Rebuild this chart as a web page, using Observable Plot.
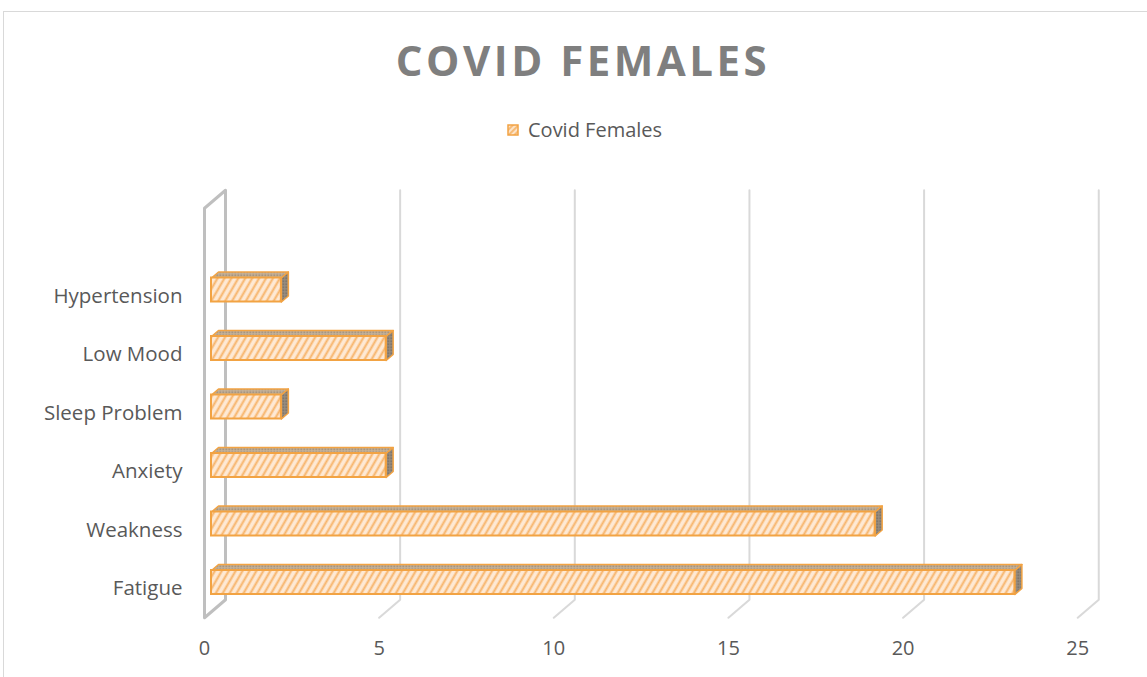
<!DOCTYPE html>
<html>
<head>
<meta charset="utf-8">
<script src="https://cdn.jsdelivr.net/npm/d3@7"></script>
<script src="https://cdn.jsdelivr.net/npm/@observablehq/plot@0.6"></script>
<style>
  html, body { margin: 0; padding: 0; background: #fff; overflow: hidden; }
  body { width: 1147px; height: 677px; position: relative; font-family: "Open Sans", sans-serif; }
  #frame { position: absolute; left: 3px; top: 11px; width: 1300px; height: 800px; z-index: 5; pointer-events: none;
           border-left: 1.5px solid #d9d9d9; border-top: 1.5px solid #d9d9d9; box-sizing: border-box; }
  #head { position: relative; height: 160px; }
  #title { position: absolute; left: 0; width: 1166px; top: 39px; text-align: center;
           font-size: 42px; line-height: 42px; font-weight: 700; color: #7f7f7f; letter-spacing: 3.5px; }
  #legend { position: absolute; left: 507px; top: 120px; font-size: 20px; line-height: 20px; color: #595959;
            display: flex; align-items: center; }
  #legend svg { margin-right: 9px; }
  #chart { position: relative; }
</style>
</head>
<body>
<div id="frame"></div>
<div id="head">
  <div id="title"></div>
  <div id="legend"></div>
</div>
<div id="chart"></div>
<script>
// ---- data ----
const chartTitle = "COVID FEMALES";
const seriesName = "Covid Females";
const categories = ["Fatigue", "Weakness", "Anxiety", "Sleep Problem", "Low Mood", "Hypertension"];
const values = [23, 19, 5, 2, 5, 2];
const xTicks = [0, 5, 10, 15, 20, 25];

// ---- layout ----
const W = 1147, H = 517;
const kx = 34.93, ky = 58.5;           // px per data unit
const mL = 211, mR = W - mL - 25 * kx;
const mT = 129.5, mB = H - (mT + 5 * ky);
const ddx = 7 / kx, ddy = 6 / ky;      // one depth step in data units
const barH = 24 / ky;
const yFloor = -0.5, yTop = 6.5;
const P = (v, y, d) => ({x: v + (d - 1) * ddx, y: y + (d - 1) * ddy});

const orange = "#f2a343";

document.getElementById("title").textContent = chartTitle;
document.getElementById("legend").innerHTML =
  `<svg width="12" height="12"><defs><pattern id="hatchL" patternUnits="userSpaceOnUse" width="4" height="4" patternTransform="rotate(45)"><rect width="4" height="4" fill="#fde3c8"/><line x1="1" y1="0" x2="1" y2="4" stroke="#f4ae5c" stroke-width="1.5"/></pattern></defs><rect x="1" y="1" width="10" height="10" fill="url(#hatchL)" stroke="${orange}" stroke-width="1.5"/></svg><span>${seriesName}</span>`;

const bars = categories.map((c, i) => ({cat: c, i, v: values[i]}));

const gridPts = xTicks.filter(t => t !== 0).flatMap(t => [
  {t, ...P(t, yTop, 3)}, {t, ...P(t, yFloor, 3)}, {t, ...P(t, yFloor, 0)}
]);
const wallPts = [P(0, yFloor, 0), P(0, yTop, 0), P(0, yTop, 3), P(0, yFloor, 3)];

const topPts = bars.flatMap(b => {
  const yt = b.i + barH / 2;
  return [P(0, yt, 1), P(b.v, yt, 1), P(b.v, yt, 2), P(0, yt, 2)].map(p => ({cat: b.cat, ...p}));
});
const sidePts = bars.flatMap(b => {
  const yt = b.i + barH / 2, yb = b.i - barH / 2;
  return [P(b.v, yt, 1), P(b.v, yt, 2), P(b.v, yb, 2), P(b.v, yb, 1)].map(p => ({cat: b.cat, ...p}));
});

const plot = Plot.plot({
  width: W, height: H,
  marginLeft: mL, marginRight: mR, marginTop: mT, marginBottom: mB,
  style: {fontFamily: "Open Sans, sans-serif", fontSize: "20px", color: "#595959", background: "transparent"},
  x: {type: "linear", domain: [0, 25], label: null},
  y: {type: "linear", domain: [0, 5], label: null},
  marks: [
    Plot.line(gridPts, {x: "x", y: "y", z: "t", stroke: "#d9d9d9", strokeWidth: 2}),
    Plot.line(wallPts, {x: "x", y: "y", curve: "linear-closed", fill: "#fff", stroke: "#bfbfbf", strokeWidth: 3}),
    Plot.line(topPts, {x: "x", y: "y", z: "cat", curve: "linear-closed", fill: "url(#dotsTop)", stroke: orange, strokeWidth: 1.5}),
    Plot.line(sidePts, {x: "x", y: "y", z: "cat", curve: "linear-closed", fill: "url(#dotsSide)", stroke: orange, strokeWidth: 1.5}),
    Plot.rect(bars, {x1: 0, x2: "v", y1: d => d.i - barH / 2, y2: d => d.i + barH / 2,
      fill: "url(#hatch)", stroke: orange, strokeWidth: 2}),
    Plot.axisX(xTicks, {tickSize: 0, tickPadding: 58, dx: -7, fontSize: 20, label: null, tickFormat: d => String(d)}),
    Plot.axisY(d3.range(categories.length), {tickSize: 0, tickPadding: 29, dy: 6, fontSize: 20.5, label: null,
      tickFormat: i => categories[i]})
  ]
});

const defs = document.createElementNS("http://www.w3.org/2000/svg", "defs");
defs.innerHTML = `
  <pattern id="hatch" patternUnits="userSpaceOnUse" width="6" height="6" patternTransform="rotate(30)">
    <rect width="6" height="6" fill="#fee9d4"/>
    <line x1="1.5" y1="0" x2="1.5" y2="6" stroke="#f7b46a" stroke-width="2"/>
  </pattern>
  <pattern id="dotsTop" patternUnits="userSpaceOnUse" width="3" height="3">
    <rect width="3" height="3" fill="#c8b49a"/>
    <rect width="1.5" height="1.5" fill="#8c7f70"/>
  </pattern>
  <pattern id="dotsSide" patternUnits="userSpaceOnUse" width="3" height="3">
    <rect width="3" height="3" fill="#9a8f82"/>
    <rect width="1.5" height="1.5" fill="#6a635b"/>
  </pattern>`;
plot.insertBefore(defs, plot.firstChild);
document.getElementById("chart").appendChild(plot);
</script>
</body>
</html>
